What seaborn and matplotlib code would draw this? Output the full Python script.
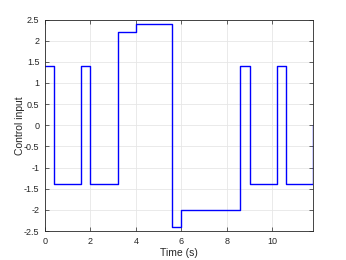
import numpy as np
import pandas as pd
import matplotlib
matplotlib.use("Agg")
import matplotlib.pyplot as plt
import seaborn as sns

# step input: switching times (s) and the level held from each time on
t_switch = [0, 0.4, 1.6, 2.0, 3.2, 4.0, 5.6, 6.0, 8.6, 9.0, 10.2, 10.6, 11.8]
u_level = [1.4, -1.4, 1.4, -1.4, 2.2, 2.4, -2.4, -2.0, 1.4, -1.4, 1.4, -1.4, 0.0]

df = pd.DataFrame({"t": t_switch, "u": u_level})

sns.set_style("whitegrid")
plt.rcParams["font.family"] = ["Liberation Sans", "DejaVu Sans"]
plt.rcParams["axes.unicode_minus"] = False

fig = plt.figure(figsize=(3.46, 2.6), dpi=100)
ax = fig.add_axes([0.130, 0.1115, 0.775, 0.8135])

sns.lineplot(data=df, x="t", y="u", ax=ax, color="#0000ff", linewidth=1.0,
             drawstyle="steps-post", estimator=None, sort=False)

ax.set_xlim(0, 11.8)
ax.set_ylim(-2.5, 2.5)
ax.set_xticks(np.arange(0, 11, 2))
ax.set_yticks(np.arange(-2.5, 2.51, 0.5))
ax.set_yticklabels([f"{v:g}" for v in np.arange(-2.5, 2.51, 0.5)])

ax.grid(True, color="#e6e6e6", linewidth=0.6)
for s in ax.spines.values():
    s.set_color("#262626")
    s.set_linewidth(0.6)
    s.set_visible(True)
ax.tick_params(direction="in", length=3, width=0.5, colors="#262626",
               labelsize=6.5, top=True, right=True, bottom=True, left=True,
               labeltop=False, labelright=False, pad=4)

ax.set_xlabel("Time (s)", fontsize=7.5, color="#262626", labelpad=2)
ax.set_ylabel("Control input", fontsize=7.5, color="#262626", labelpad=-1)

fig.savefig("out.png", dpi=100)
